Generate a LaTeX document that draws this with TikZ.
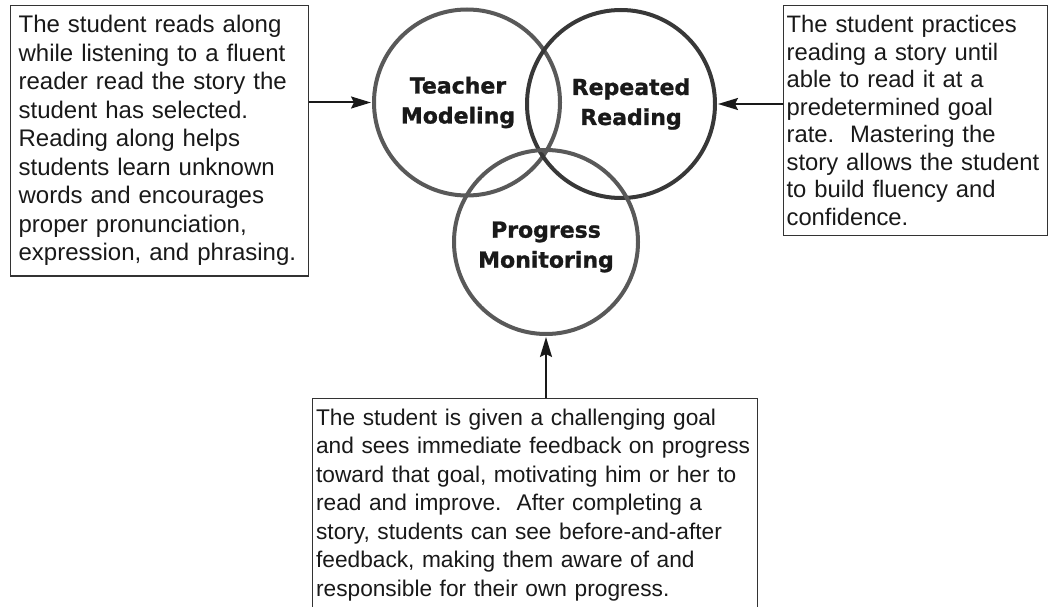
\documentclass[tikz,border=0pt]{standalone}
\usepackage{fontspec}
\setmainfont{Liberation Sans}
\newfontfamily\headfont{DejaVu Sans}[BoldFeatures={FakeBold=1.2}]
\usetikzlibrary{arrows.meta,positioning}

\begin{document}
\begin{tikzpicture}[x=1pt, y=1pt, >={Stealth[length=20pt, width=12pt, inset=3pt]},
    ring/.style={circle, draw=#1, line width=4pt, inner sep=0pt},
    ringtext/.style={font=\headfont\bfseries\fontsize{22}{30}\selectfont, align=center, text=black!90},
    note/.style={draw=black!80, line width=1.2pt, align=left, anchor=north west,
        inner ysep=10pt, text=black!90},
    link/.style={->, line width=2pt, draw=black!90, shorten >=1pt}]
    \useasboundingbox (0,0) rectangle (1049,-607);
    \clip (0,0) rectangle (1049,-607);

    \node[ring=black!65, minimum size=186pt] (tm) at (467,-102.5) {};
    \node[ring=black!78, minimum size=188pt] (rr) at (621,-104) {};
    \node[ring=black!65, minimum size=184pt] (pm) at (546,-242) {};
    \node[ringtext] (tmtext) at ([xshift=-9pt]tm.center) {Teacher\\Modeling};
    \node[ringtext] (rrtext) at ([xshift=10pt]rr.center) {Repeated\\Reading};
    \node[ringtext] (pmtext) at ([yshift=-5pt]pm.center) {Progress\\Monitoring};

    \node[note, text width=282pt, inner xsep=8pt, font=\fontsize{24}{28.5}\selectfont] (lbox) at (10,-5)
        {The student reads along\\
         while listening to a fluent\\
         reader read the story the\\
         student has selected.\\
         Reading along helps\\
         students learn unknown\\
         words and encourages\\
         proper pronunciation,\\
         expression, and phrasing.};
    \node[note, text width=258pt, inner xsep=3pt, font=\fontsize{23.8}{27.5}\selectfont] (rbox) at (783,-5)
        {The student practices\\
         reading a story until\\
         able to read it at a\\
         predetermined goal\\
         rate.\ \ Mastering the\\
         story allows the student\\
         to build fluency and\\
         confidence.};
    \node[note, text width=438pt, inner xsep=3.5pt, font=\fontsize{22.7}{28.5}\selectfont] (pbox) at (312,-398)
        {The student is given a challenging goal\\
         and sees immediate feedback on progress\\
         toward that goal, motivating him or her to\\
         read and improve.\ \ After completing a\\
         story, students can see before-and-after\\
         feedback, making them aware of and\\
         responsible for their own progress.};

    \path (lbox.east |- tm.west) edge[link] (tm.west)
          (rbox.west |- rr.east) edge[link] (rr.east)
          (pbox.north -| pm.south) edge[link] (pm.south);
\end{tikzpicture}
\end{document}
